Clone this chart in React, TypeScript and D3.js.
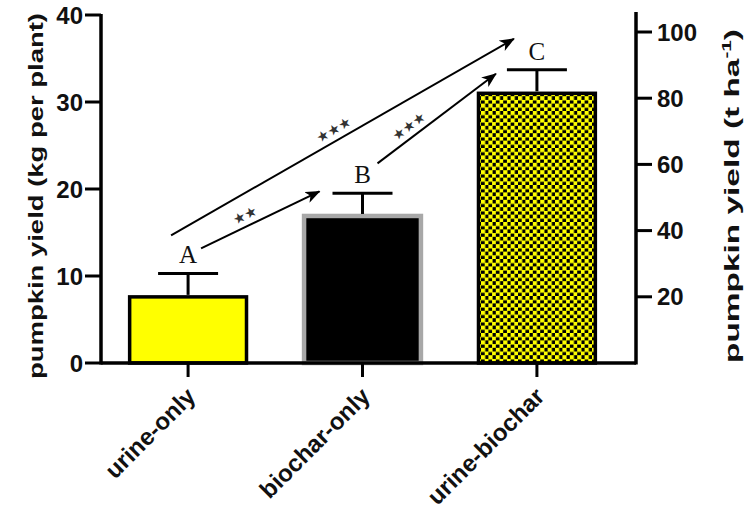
import React from 'react';
import * as d3 from 'd3';

const categories = ['urine-only', 'biochar-only', 'urine-biochar'];
const meanValues = [7.6, 16.9, 31.0];
const errorValues = [2.7, 2.6, 2.7];
const groupLetters = ['A', 'B', 'C'];
const leftTicks = [0, 10, 20, 30, 40];
const rightTicks = [20, 40, 60, 80, 100];
const compFrom = [0, 0, 1];
const compTo = [2, 1, 2];
const compLabels = ['★★★', '★★', '★★★'];

// layout config for the comparison arrows (pixel offsets from letters)
const arrowStartOff = [[-17, -28], [13, -15], [15, -20]];
const arrowEndOff = [[-23, -21], [-43, 8], [-41, 14]];
const labelT = [0.49, 0.41, 0.32];

const W = 755, H = 516;
const axL = 101, axR = 636, base = 363;

export default function App() {
  const x = d3.scaleBand<string>().domain(categories).range([100, 625]).paddingInner(0.33).paddingOuter(0.17);
  const yL = d3.scaleLinear().domain([0, 40]).range([base, 15]);
  const yR = d3.scaleLinear().domain([0, 100]).range([base, 32]);
  const bw = x.bandwidth();
  const cx = (i: number) => (x(categories[i]) as number) + bw / 2;
  const letterPos = (i: number) => [cx(i), yL(meanValues[i] + errorValues[i]) - 10];
  const fills = ['#ffff00', '#000000', 'url(#checker)'];
  const strokes = ['#000', '#a8a8a8', '#000'];
  const boldFont = '"Liberation Sans", Arial, sans-serif';
  const serif = '"Liberation Serif", "Times New Roman", serif';

  return (
    <svg width={W} height={H} style={{ position: 'absolute', left: 0, top: 0, background: '#fff' }}>
      <defs>
        <pattern id="checker" width={7.4} height={7.4} patternUnits="userSpaceOnUse">
          <rect width={7.4} height={7.4} fill="#000" />
          <rect x={0} y={0} width={4.2} height={4.2} fill="#ffff00" />
          <rect x={3.7} y={3.7} width={4.2} height={4.2} fill="#ffff00" />
        </pattern>
        <marker id="arrow" markerUnits="userSpaceOnUse" markerWidth={16} markerHeight={12} refX={14} refY={6} orient="auto">
          <path d="M0,0 L15,6 L0,12 L4,6 Z" fill="#000" />
        </marker>
      </defs>

      {/* bars */}
      {categories.map((c, i) => (
        <rect key={c} x={x(c)} y={yL(meanValues[i])} width={bw} height={base - yL(meanValues[i])}
          fill={fills[i]} stroke={strokes[i]} strokeWidth={i === 1 ? 4.5 : 3.5} />
      ))}

      {/* error bars */}
      {categories.map((c, i) => (
        <g key={'e' + c} stroke="#000" strokeWidth={3}>
          <line x1={cx(i)} x2={cx(i)} y1={yL(meanValues[i]) - 2} y2={yL(meanValues[i] + errorValues[i])} />
          <line x1={cx(i) - 30} x2={cx(i) + 30} y1={yL(meanValues[i] + errorValues[i])} y2={yL(meanValues[i] + errorValues[i])} />
        </g>
      ))}

      {/* letters */}
      {groupLetters.map((l, i) => {
        const [lx, ly] = letterPos(i);
        return <text key={l} x={lx} y={ly} textAnchor="middle" fontFamily={serif} fontSize={25} fill="#111">{l}</text>;
      })}

      {/* comparison arrows */}
      {compFrom.map((f, k) => {
        const [ax, ay] = letterPos(f);
        const [bx, by] = letterPos(compTo[k]);
        const x1 = ax + arrowStartOff[k][0], y1 = ay + arrowStartOff[k][1];
        const x2 = bx + arrowEndOff[k][0], y2 = by + arrowEndOff[k][1];
        const ang = Math.atan2(y2 - y1, x2 - x1) * 180 / Math.PI;
        const t = labelT[k];
        const mx = x1 + (x2 - x1) * t, my = y1 + (y2 - y1) * t;
        const len = Math.hypot(x2 - x1, y2 - y1);
        const nx = (y2 - y1) / len, ny = -(x2 - x1) / len;
        const lx = mx + nx * 6, ly = my + ny * 6;
        return (
          <g key={'a' + k}>
            <line x1={x1} y1={y1} x2={x2} y2={y2} stroke="#000" strokeWidth={2} markerEnd="url(#arrow)" />
            <text x={lx} y={ly} transform={`rotate(${ang},${lx},${ly})`} textAnchor="middle"
              fontFamily='"DejaVu Sans", sans-serif' fontSize={14} fill="#333" letterSpacing={0}>{compLabels[k]}</text>
          </g>
        );
      })}

      {/* axes */}
      <g stroke="#000" strokeWidth={3.5} fill="none">
        <line x1={axL} x2={axR} y1={base} y2={base} />
        <line x1={axL} x2={axL} y1={base + 1.5} y2={14} />
        <line x1={axR} x2={axR} y1={base + 1.5} y2={12} />
      </g>
      {leftTicks.map(v => (
        <g key={'l' + v}>
          <line x1={85} x2={axL} y1={yL(v)} y2={yL(v)} stroke="#000" strokeWidth={3} />
          <text x={83} y={yL(v)} dy="0.36em" textAnchor="end" fontFamily={boldFont} fontWeight="bold" fontSize={24} fill="#111">{v}</text>
        </g>
      ))}
      {rightTicks.map(v => (
        <g key={'r' + v}>
          <line x1={axR} x2={652} y1={yR(v)} y2={yR(v)} stroke="#000" strokeWidth={3} />
          <text x={657} y={yR(v)} dy="0.36em" textAnchor="start" fontFamily={boldFont} fontWeight="bold" fontSize={24} fill="#111">{v}</text>
        </g>
      ))}
      {categories.map((c, i) => (
        <g key={'x' + c}>
          <line x1={cx(i)} x2={cx(i)} y1={base} y2={377} stroke="#000" strokeWidth={3} />
          <text transform={`translate(${cx(i) - 3},${386}) rotate(-45)`} textAnchor="end" dy="0.7em"
            fontFamily={boldFont} fontWeight="bold" fontSize={24} fill="#111">{c}</text>
        </g>
      ))}

      {/* axis titles */}
      <text transform={`translate(43,${196}) rotate(-90)`} textAnchor="middle" fontFamily={boldFont} fontWeight="bold"
        fontSize={21} fill="#111" textLength={366} lengthAdjust="spacingAndGlyphs">pumpkin yield (kg per plant)</text>
      <text transform={`translate(739,${196}) rotate(-90)`} textAnchor="middle" fontFamily={boldFont} fontWeight="bold"
        fontSize={21} fill="#111" textLength={334} lengthAdjust="spacingAndGlyphs">pumpkin yield (t ha<tspan dy={-8} fontSize={13}>-1</tspan><tspan dy={8}>)</tspan></text>
    </svg>
  );
}
